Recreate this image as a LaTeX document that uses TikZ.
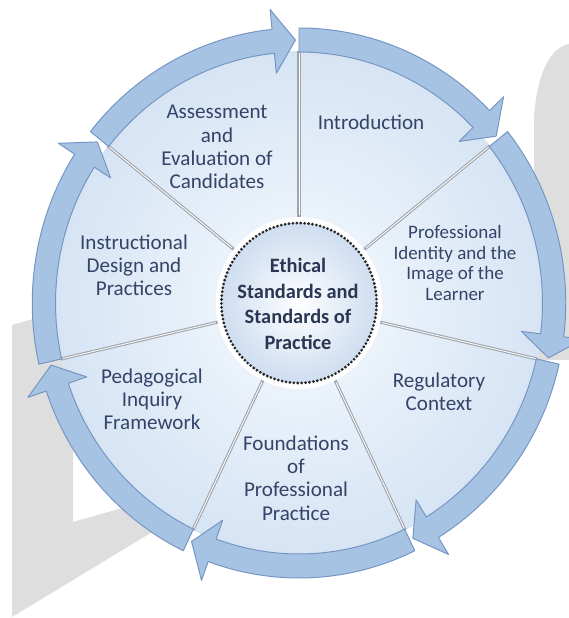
\documentclass[tikz,border=0pt]{standalone}
\usepackage{fontspec}
\setmainfont{Carlito}

\definecolor{ringblue}{RGB}{166,195,228}
\definecolor{ringedge}{RGB}{118,150,194}
\definecolor{sectorin}{RGB}{246,250,254}
\definecolor{sectorout}{RGB}{214,228,244}
\definecolor{hubedge}{RGB}{206,221,240}
\definecolor{labeltext}{RGB}{52,68,104}
\definecolor{divider}{RGB}{160,165,172}
\definecolor{watermark}{RGB}{222,222,222}

\tikzstyle{ringarrow} = [fill=ringblue,draw=ringedge,line width=0.7pt,line join=round]
\tikzstyle{divline} = [draw=divider,line width=2.2pt]
\tikzstyle{sectorlabel} = [align=center,text=labeltext,inner sep=0pt,font=\fontsize{15}{16.5}\selectfont]
\tikzstyle{hublabel} = [align=center,text=labeltext!80!black,inner sep=0pt,font=\bfseries\fontsize{14.5}{18.3}\selectfont]

\begin{document}
\begin{tikzpicture}[x=0.025cm,y=0.025cm]
	\useasboundingbox (0,0) rectangle (569,618);
	\fill[white] (0,0) rectangle (569,618);

	% watermark behind the wheel
	\fill[watermark] (12,293) -- (200,348) -- (200,218) -- (73,178) -- (73,96)
		-- (200,132) -- (200,115) -- (12,1) -- cycle;
	\fill[watermark] (569,574) .. controls (550,570) and (537,545) .. (534,500)
		-- (534,258) -- (569,258) -- cycle;

	\begin{scope}[shift={(299,315)},xscale=0.97]
		\shade[inner color=sectorin,outer color=sectorout] (0,0) circle[radius=252];
		% dividers between the seven sectors
		\foreach \k in {0,...,6} {
			\pgfmathsetmacro\d{90-\k*360/7}
			\draw[divline] (\d:80) -- (\d:252);
			\draw[white,line width=0.6pt] (\d:88) -- (\d:250);
		}
		% hub
		\fill[white] (0,0) circle[radius=86];
		\shade[inner color=white,outer color=hubedge] (0,0) circle[radius=80];
		\draw[black!85,line width=2.2pt,dash pattern=on 0pt off 2.8pt,line cap=round]
			(0,0) circle[radius=80];
		% ring of arrows, clockwise
		\foreach \k in {0,...,6} {
			\pgfmathsetmacro\a{90-\k*360/7}
			\pgfmathsetmacro\b{90-(\k+1)*360/7+0.8}
			\pgfmathsetmacro\h{\b+5}
			\filldraw[ringarrow] (\a:251) -- (\a:275)
				arc[start angle=\a,end angle=\h,radius=275]
				-- (\h:295) -- (\b:263) -- (\h:231) -- (\h:251)
				arc[start angle=\h,end angle=\a,radius=251] -- cycle;
		}
	\end{scope}

	\node[hublabel] (ethics) at (298,314) {Ethical\\Standards and\\Standards of\\Practice};
	\node[sectorlabel] (intro) at (371,496) {Introduction};
	\node[sectorlabel,font=\fontsize{13.5}{14.6}\selectfont] (identity) at (455,355)
		{Professional\\Identity and the\\Image of the\\Learner};
	\node[sectorlabel] (regulatory) at (439,226) {Regulatory\\Context};
	\node[sectorlabel] (foundations) at (296,140) {Foundations\\of\\Professional\\Practice};
	\node[sectorlabel] (inquiry) at (152,219) {Pedagogical\\Inquiry\\Framework};
	\node[sectorlabel] (design) at (134,353) {Instructional\\Design and\\Practices};
	\node[sectorlabel] (assessment) at (217,471) {Assessment\\and\\Evaluation of\\Candidates};
\end{tikzpicture}
\end{document}
